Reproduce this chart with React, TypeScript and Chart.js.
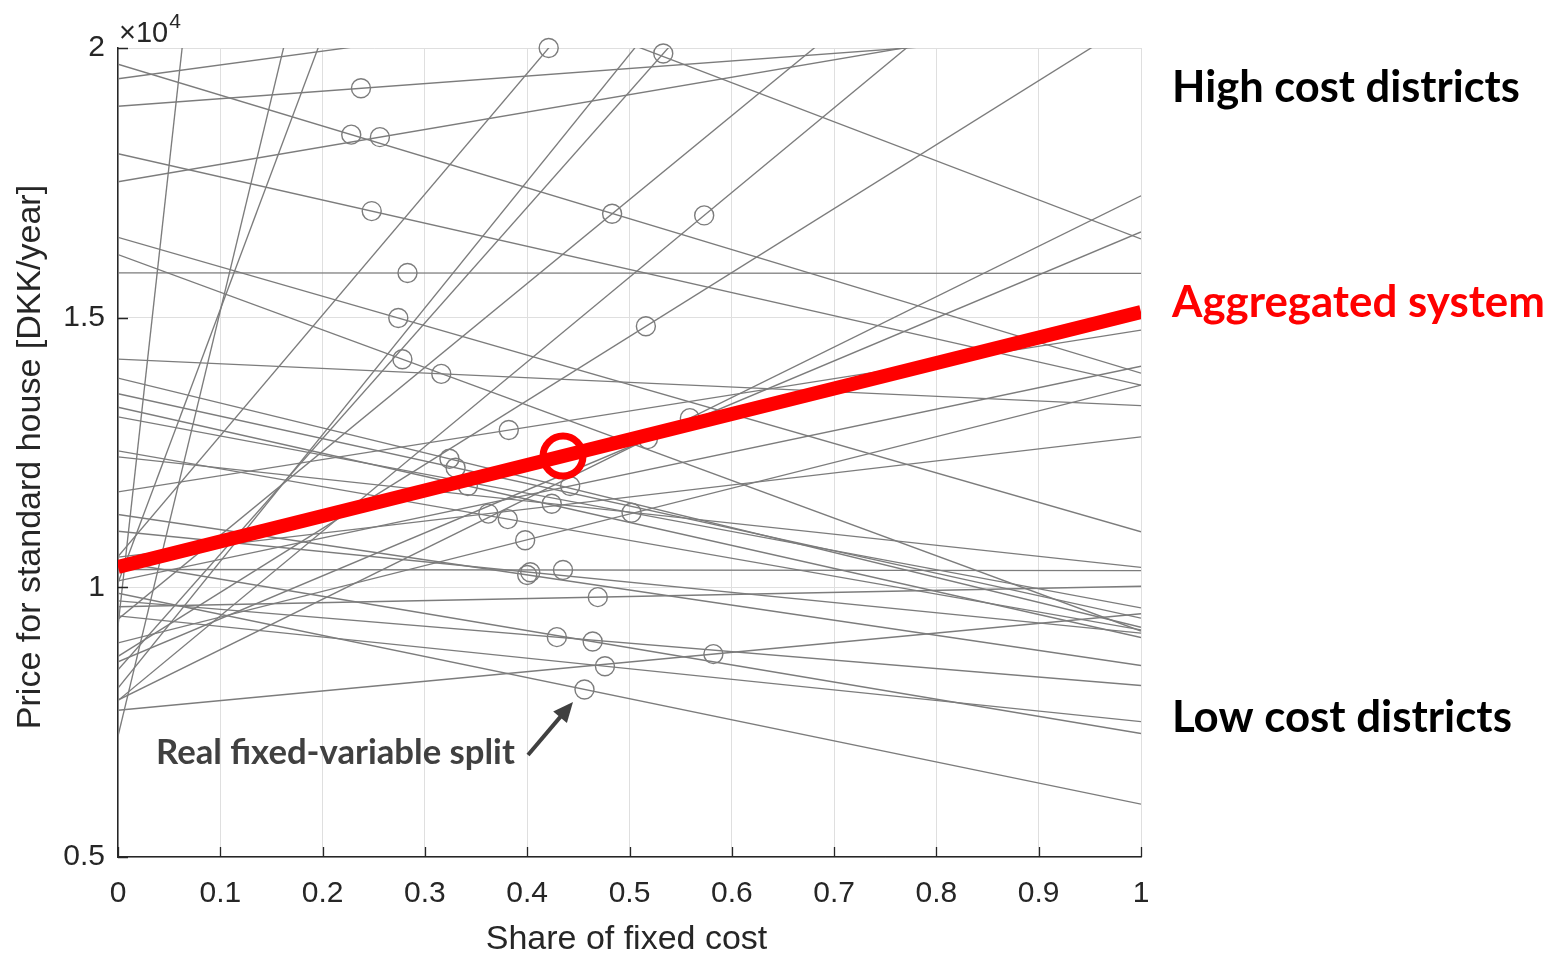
import React, { useEffect, useRef } from "react";
import { Chart, registerables } from "chart.js";

Chart.register(...registerables);

// ---- data ----
const shareTicks = [0, 0.1, 0.2, 0.3, 0.4, 0.5, 0.6, 0.7, 0.8, 0.9, 1];
const priceTicks = [5000, 10000, 15000, 20000];

// District price [DKK/year] when the fixed share is 0 and when it is 1
const priceAtZeroShare = [
  19700, 19430, 18920, 18040, 17520, 16490, 16170, 15830, 14230, 13880,
  13590, 13340, 13160, 12420, 12530, 11770, 11350, 11040, 10560, 10570,
  10330, 10470, 10120, 10080, 9890, 9640, 9750, 9470, 9410, 9280,
  8970, 8720, 8620, 8470, 8130, 7910, 7900, 7720, 7240, 23700,
];
const priceAtFullShare = [
  13970, 21990, 20320, 13750, 20750, 11030, 9190, 15820, 13370, 9260,
  9430, 9070, 9620, 10370, 9210, 14770, 8550, 9150, 12790, 32970,
  10310, 7290, 14100, 60800, 5980, 10020, 8180, 7510, 24970, 180300,
  13750, 20580, 16590, 29910, 31630, 17260, 23600, 9510, 86100, 16460,
];
// Real fixed-variable split of each district (null: outside the plot)
const realShare: (number | null)[] = [
  0.228, null, 0.2375, 0.248, 0.256, 0.274, 0.278, 0.283, 0.316, 0.324,
  0.33, 0.342, 0.502, 0.424, 0.381, 0.382, 0.4, 0.403, 0.362, 0.421,
  0.435, 0.464, 0.442, null, 0.456, 0.469, 0.429, 0.476, 0.483, null,
  0.398, 0.516, 0.518, 0.533, null, 0.559, 0.573, 0.582, null, null,
];

const aggregatedPrice = [10377, 15106]; // at share 0 and 1
const aggregatedShare = 0.435;

// ---- styles ----
const GRAY = "#7c7c7c";
const AXIS = "#262626";
const TICK_FONT = '"Liberation Sans", Arial, sans-serif';
const NOTE_FONT = 'Lato, "Open Sans", sans-serif';

const lerp = (a: number, b: number, t: number) => a + (b - a) * t;

function fitSize(ctx: CanvasRenderingContext2D, text: string, weight: string, family: string, width: number) {
  ctx.font = `${weight} 100px ${family}`;
  const w = ctx.measureText(text).width;
  return (100 * width) / w;
}

const overlayPlugin = {
  id: "overlay",
  afterDraw(chart: any) {
    const ctx: CanvasRenderingContext2D = chart.ctx;
    const xs = chart.scales.x;
    const ys = chart.scales.y;
    const { left, right, top, bottom } = chart.chartArea;
    ctx.save();

    // inward tick marks
    ctx.strokeStyle = AXIS;
    ctx.lineWidth = 1.3;
    ctx.beginPath();
    shareTicks.forEach((v) => {
      const px = Math.round(xs.getPixelForValue(v)) + 0.5;
      ctx.moveTo(px, bottom);
      ctx.lineTo(px, bottom - 10);
    });
    priceTicks.forEach((v) => {
      const py = Math.round(ys.getPixelForValue(v)) + 0.5;
      ctx.moveTo(left, py);
      ctx.lineTo(left + 10, py);
    });
    ctx.stroke();

    // exponent
    ctx.fillStyle = AXIS;
    ctx.textAlign = "left";
    ctx.textBaseline = "alphabetic";
    ctx.font = `29px ${TICK_FONT}`;
    ctx.fillText("\u00d710", left + 1, top - 6);
    const w10 = ctx.measureText("\u00d710").width;
    ctx.font = `21px ${TICK_FONT}`;
    ctx.fillText("4", left + 2 + w10, top - 20);

    // axis titles
    ctx.font = `34px ${TICK_FONT}`;
    ctx.textAlign = "center";
    ctx.textBaseline = "middle";
    ctx.fillText("Share of fixed cost", (left + right) / 2 - 3, 940);
    ctx.save();
    ctx.translate(31, 457);
    ctx.rotate(-Math.PI / 2);
    ctx.fillText("Price for standard house [DKK/year]", 0, 0);
    ctx.restore();

    // notes on the right
    ctx.textAlign = "left";
    ctx.textBaseline = "alphabetic";
    const notes = [
      { text: "High cost districts", color: "#000000", x: 1172, y: 102, w: 348 },
      { text: "Aggregated system", color: "#ff0000", x: 1172, y: 317, w: 373 },
      { text: "Low cost districts", color: "#000000", x: 1172, y: 732, w: 340 },
      { text: "Real fixed-variable split", color: "#404040", x: 156, y: 764, w: 359 },
    ];
    notes.forEach((n) => {
      const s = fitSize(ctx, n.text, "bold", NOTE_FONT, n.w);
      ctx.font = `bold ${s}px ${NOTE_FONT}`;
      ctx.fillStyle = n.color;
      ctx.fillText(n.text, n.x, n.y);
    });

    // arrow
    const x0 = 528, y0 = 755, x1 = 573, y1 = 702;
    const ang = Math.atan2(y1 - y0, x1 - x0);
    ctx.strokeStyle = "#404040";
    ctx.fillStyle = "#404040";
    ctx.lineWidth = 4;
    ctx.lineCap = "butt";
    ctx.beginPath();
    ctx.moveTo(x0, y0);
    ctx.lineTo(x1 - 12 * Math.cos(ang), y1 - 12 * Math.sin(ang));
    ctx.stroke();
    ctx.beginPath();
    ctx.moveTo(x1, y1);
    ctx.lineTo(x1 - 20 * Math.cos(ang) + 9 * Math.sin(ang), y1 - 20 * Math.sin(ang) - 9 * Math.cos(ang));
    ctx.lineTo(x1 - 20 * Math.cos(ang) - 9 * Math.sin(ang), y1 - 20 * Math.sin(ang) + 9 * Math.cos(ang));
    ctx.closePath();
    ctx.fill();

    ctx.restore();
  },
};

export default function App() {
  const canvasRef = useRef<HTMLCanvasElement | null>(null);

  useEffect(() => {
    if (!canvasRef.current) return;

    const districtLines = priceAtZeroShare.map((p0, i) => ({
      type: "line" as const,
      data: [
        { x: 0, y: p0 },
        { x: 1, y: priceAtFullShare[i] },
      ],
      borderColor: GRAY,
      borderWidth: 1.35,
      pointRadius: 0,
      fill: false,
      order: 4,
    }));

    const districtPoints = realShare
      .map((s, i) =>
        s === null ? null : { x: s, y: lerp(priceAtZeroShare[i], priceAtFullShare[i], s) }
      )
      .filter((p) => p !== null);

    const chart = new Chart(canvasRef.current, {
      type: "line",
      data: {
        datasets: [
          {
            type: "scatter" as const,
            data: [{ x: aggregatedShare, y: lerp(aggregatedPrice[0], aggregatedPrice[1], aggregatedShare) }],
            pointRadius: 20,
            pointBorderWidth: 7,
            pointBorderColor: "#ff0000",
            pointBackgroundColor: "rgba(0,0,0,0)",
            clip: false as any,
            order: 0,
          },
          {
            type: "line" as const,
            data: [
              { x: 0, y: aggregatedPrice[0] },
              { x: 1, y: aggregatedPrice[1] },
            ],
            borderColor: "#ff0000",
            borderWidth: 14,
            borderCapStyle: "butt",
            pointRadius: 0,
            order: 1,
          },
          {
            type: "scatter" as const,
            data: districtPoints as any,
            pointRadius: 9.5,
            pointBorderWidth: 1.4,
            pointBorderColor: GRAY,
            pointBackgroundColor: "rgba(0,0,0,0)",
            clip: false as any,
            order: 2,
          },
          ...districtLines,
        ] as any,
      },
      options: {
        animation: false,
        responsive: true,
        maintainAspectRatio: false,
        events: [],
        layout: { padding: { top: 48, right: 413, left: 0, bottom: 0 } },
        plugins: { legend: { display: false }, tooltip: { enabled: false } },
        scales: {
          x: {
            type: "linear",
            min: 0,
            max: 1,
            afterBuildTicks: (scale: any) => {
              scale.ticks = shareTicks.map((v) => ({ value: v }));
            },
            afterFit: (scale: any) => {
              scale.height = 100;
            },
            ticks: {
              callback: (v: any) => String(Math.round(Number(v) * 10) / 10),
              font: { family: TICK_FONT, size: 30 },
              color: AXIS,
              padding: 19,
              maxRotation: 0,
              autoSkip: false,
            },
            grid: { color: "#dfdfdf", lineWidth: 1, drawTicks: false },
            border: { display: true, color: AXIS, width: 1.5 },
          },
          y: {
            type: "linear",
            min: 5000,
            max: 20000,
            afterBuildTicks: (scale: any) => {
              scale.ticks = priceTicks.map((v) => ({ value: v }));
            },
            afterFit: (scale: any) => {
              scale.width = 118;
            },
            ticks: {
              callback: (v: any) => String(Number(v) / 10000),
              font: { family: TICK_FONT, size: 30 },
              color: AXIS,
              padding: 13,
              autoSkip: false,
            },
            grid: { color: "#dfdfdf", lineWidth: 1, drawTicks: false },
            border: { display: true, color: AXIS, width: 1.5 },
          },
        },
      } as any,
      plugins: [overlayPlugin],
    });

    return () => chart.destroy();
  }, []);

  return (
    <div style={{ position: "fixed", left: 0, top: 0, width: 1554, height: 957, background: "#fff" }}>
      <canvas ref={canvasRef} />
    </div>
  );
}
